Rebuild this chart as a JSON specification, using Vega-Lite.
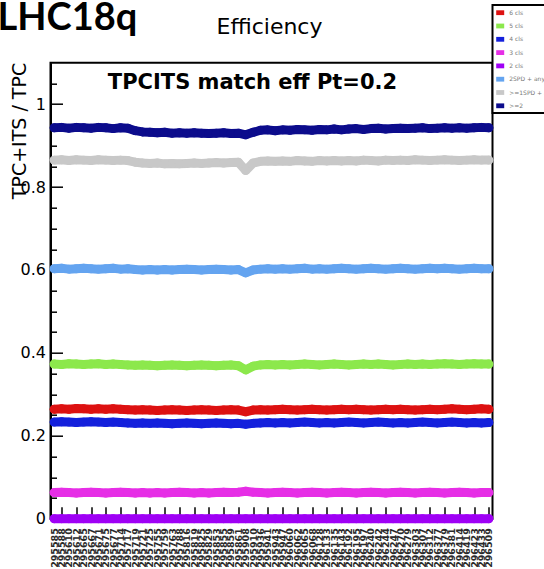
{
  "$schema": "https://vega.github.io/schema/vega-lite/v6.json",
  "width": 442,
  "height": 456,
  "autosize": "none",
  "padding": {"left": 50.5, "top": 62.7, "right": 51.5, "bottom": 50.3},
  "background": "white",
  "data": {"values": [
    {"run":"295585","s":"6 cls","v":0.264},{"run":"295588","s":"6 cls","v":0.265},{"run":"295610","s":"6 cls","v":0.264},{"run":"295612","s":"6 cls","v":0.266},{"run":"295665","s":"6 cls","v":0.265},{"run":"295667","s":"6 cls","v":0.264},{"run":"295671","s":"6 cls","v":0.265},{"run":"295675","s":"6 cls","v":0.264},{"run":"295677","s":"6 cls","v":0.265},{"run":"295714","s":"6 cls","v":0.264},
    {"run":"295717","s":"6 cls","v":0.263},{"run":"295719","s":"6 cls","v":0.262},{"run":"295721","s":"6 cls","v":0.263},{"run":"295725","s":"6 cls","v":0.262},{"run":"295755","s":"6 cls","v":0.261},{"run":"295759","s":"6 cls","v":0.262},{"run":"295763","s":"6 cls","v":0.263},{"run":"295788","s":"6 cls","v":0.262},{"run":"295816","s":"6 cls","v":0.261},{"run":"295819","s":"6 cls","v":0.262},
    {"run":"295825","s":"6 cls","v":0.263},{"run":"295829","s":"6 cls","v":0.262},{"run":"295853","s":"6 cls","v":0.261},{"run":"295855","s":"6 cls","v":0.262},{"run":"295859","s":"6 cls","v":0.263},{"run":"295861","s":"6 cls","v":0.262},{"run":"295908","s":"6 cls","v":0.258},{"run":"295910","s":"6 cls","v":0.262},{"run":"295936","s":"6 cls","v":0.263},{"run":"295941","s":"6 cls","v":0.262},
    {"run":"295943","s":"6 cls","v":0.263},{"run":"295947","s":"6 cls","v":0.264},{"run":"296060","s":"6 cls","v":0.263},{"run":"296062","s":"6 cls","v":0.262},{"run":"296065","s":"6 cls","v":0.263},{"run":"296068","s":"6 cls","v":0.264},{"run":"296128","s":"6 cls","v":0.263},{"run":"296133","s":"6 cls","v":0.262},{"run":"296135","s":"6 cls","v":0.263},{"run":"296143","s":"6 cls","v":0.264},
    {"run":"296192","s":"6 cls","v":0.263},{"run":"296195","s":"6 cls","v":0.264},{"run":"296197","s":"6 cls","v":0.263},{"run":"296240","s":"6 cls","v":0.262},{"run":"296242","s":"6 cls","v":0.263},{"run":"296244","s":"6 cls","v":0.264},{"run":"296247","s":"6 cls","v":0.263},{"run":"296270","s":"6 cls","v":0.264},{"run":"296279","s":"6 cls","v":0.263},{"run":"296303","s":"6 cls","v":0.262},
    {"run":"296307","s":"6 cls","v":0.263},{"run":"296312","s":"6 cls","v":0.264},{"run":"296377","s":"6 cls","v":0.263},{"run":"296379","s":"6 cls","v":0.264},{"run":"296381","s":"6 cls","v":0.265},{"run":"296414","s":"6 cls","v":0.264},{"run":"296419","s":"6 cls","v":0.263},{"run":"296423","s":"6 cls","v":0.264},{"run":"296433","s":"6 cls","v":0.265},{"run":"296509","s":"6 cls","v":0.264},

    {"run":"295585","s":"5 cls","v":0.373},{"run":"295588","s":"5 cls","v":0.372},{"run":"295610","s":"5 cls","v":0.374},{"run":"295612","s":"5 cls","v":0.373},{"run":"295665","s":"5 cls","v":0.372},{"run":"295667","s":"5 cls","v":0.373},{"run":"295671","s":"5 cls","v":0.374},{"run":"295675","s":"5 cls","v":0.372},{"run":"295677","s":"5 cls","v":0.373},{"run":"295714","s":"5 cls","v":0.372},
    {"run":"295717","s":"5 cls","v":0.371},{"run":"295719","s":"5 cls","v":0.370},{"run":"295721","s":"5 cls","v":0.371},{"run":"295725","s":"5 cls","v":0.370},{"run":"295755","s":"5 cls","v":0.369},{"run":"295759","s":"5 cls","v":0.370},{"run":"295763","s":"5 cls","v":0.371},{"run":"295788","s":"5 cls","v":0.370},{"run":"295816","s":"5 cls","v":0.369},{"run":"295819","s":"5 cls","v":0.370},
    {"run":"295825","s":"5 cls","v":0.371},{"run":"295829","s":"5 cls","v":0.370},{"run":"295853","s":"5 cls","v":0.369},{"run":"295855","s":"5 cls","v":0.370},{"run":"295859","s":"5 cls","v":0.371},{"run":"295861","s":"5 cls","v":0.369},{"run":"295908","s":"5 cls","v":0.359},{"run":"295910","s":"5 cls","v":0.368},{"run":"295936","s":"5 cls","v":0.371},{"run":"295941","s":"5 cls","v":0.372},
    {"run":"295943","s":"5 cls","v":0.371},{"run":"295947","s":"5 cls","v":0.372},{"run":"296060","s":"5 cls","v":0.371},{"run":"296062","s":"5 cls","v":0.372},{"run":"296065","s":"5 cls","v":0.373},{"run":"296068","s":"5 cls","v":0.372},{"run":"296128","s":"5 cls","v":0.371},{"run":"296133","s":"5 cls","v":0.372},{"run":"296135","s":"5 cls","v":0.373},{"run":"296143","s":"5 cls","v":0.372},
    {"run":"296192","s":"5 cls","v":0.371},{"run":"296195","s":"5 cls","v":0.372},{"run":"296197","s":"5 cls","v":0.373},{"run":"296240","s":"5 cls","v":0.372},{"run":"296242","s":"5 cls","v":0.373},{"run":"296244","s":"5 cls","v":0.372},{"run":"296247","s":"5 cls","v":0.371},{"run":"296270","s":"5 cls","v":0.372},{"run":"296279","s":"5 cls","v":0.373},{"run":"296303","s":"5 cls","v":0.372},
    {"run":"296307","s":"5 cls","v":0.373},{"run":"296312","s":"5 cls","v":0.372},{"run":"296377","s":"5 cls","v":0.373},{"run":"296379","s":"5 cls","v":0.374},{"run":"296381","s":"5 cls","v":0.373},{"run":"296414","s":"5 cls","v":0.372},{"run":"296419","s":"5 cls","v":0.373},{"run":"296423","s":"5 cls","v":0.374},{"run":"296433","s":"5 cls","v":0.373},{"run":"296509","s":"5 cls","v":0.373},

    {"run":"295585","s":"4 cls","v":0.233},{"run":"295588","s":"4 cls","v":0.234},{"run":"295610","s":"4 cls","v":0.233},{"run":"295612","s":"4 cls","v":0.232},{"run":"295665","s":"4 cls","v":0.233},{"run":"295667","s":"4 cls","v":0.234},{"run":"295671","s":"4 cls","v":0.233},{"run":"295675","s":"4 cls","v":0.232},{"run":"295677","s":"4 cls","v":0.233},{"run":"295714","s":"4 cls","v":0.232},
    {"run":"295717","s":"4 cls","v":0.231},{"run":"295719","s":"4 cls","v":0.230},{"run":"295721","s":"4 cls","v":0.231},{"run":"295725","s":"4 cls","v":0.230},{"run":"295755","s":"4 cls","v":0.231},{"run":"295759","s":"4 cls","v":0.230},{"run":"295763","s":"4 cls","v":0.229},{"run":"295788","s":"4 cls","v":0.230},{"run":"295816","s":"4 cls","v":0.231},{"run":"295819","s":"4 cls","v":0.230},
    {"run":"295825","s":"4 cls","v":0.229},{"run":"295829","s":"4 cls","v":0.230},{"run":"295853","s":"4 cls","v":0.231},{"run":"295855","s":"4 cls","v":0.230},{"run":"295859","s":"4 cls","v":0.229},{"run":"295861","s":"4 cls","v":0.230},{"run":"295908","s":"4 cls","v":0.228},{"run":"295910","s":"4 cls","v":0.230},{"run":"295936","s":"4 cls","v":0.231},{"run":"295941","s":"4 cls","v":0.232},
    {"run":"295943","s":"4 cls","v":0.231},{"run":"295947","s":"4 cls","v":0.232},{"run":"296060","s":"4 cls","v":0.231},{"run":"296062","s":"4 cls","v":0.232},{"run":"296065","s":"4 cls","v":0.233},{"run":"296068","s":"4 cls","v":0.232},{"run":"296128","s":"4 cls","v":0.231},{"run":"296133","s":"4 cls","v":0.232},{"run":"296135","s":"4 cls","v":0.231},{"run":"296143","s":"4 cls","v":0.232},
    {"run":"296192","s":"4 cls","v":0.233},{"run":"296195","s":"4 cls","v":0.232},{"run":"296197","s":"4 cls","v":0.231},{"run":"296240","s":"4 cls","v":0.232},{"run":"296242","s":"4 cls","v":0.233},{"run":"296244","s":"4 cls","v":0.232},{"run":"296247","s":"4 cls","v":0.231},{"run":"296270","s":"4 cls","v":0.232},{"run":"296279","s":"4 cls","v":0.231},{"run":"296303","s":"4 cls","v":0.232},
    {"run":"296307","s":"4 cls","v":0.233},{"run":"296312","s":"4 cls","v":0.232},{"run":"296377","s":"4 cls","v":0.231},{"run":"296379","s":"4 cls","v":0.232},{"run":"296381","s":"4 cls","v":0.233},{"run":"296414","s":"4 cls","v":0.232},{"run":"296419","s":"4 cls","v":0.231},{"run":"296423","s":"4 cls","v":0.232},{"run":"296433","s":"4 cls","v":0.231},{"run":"296509","s":"4 cls","v":0.232},

    {"run":"295585","s":"3 cls","v":0.063},{"run":"295588","s":"3 cls","v":0.064},{"run":"295610","s":"3 cls","v":0.063},{"run":"295612","s":"3 cls","v":0.062},{"run":"295665","s":"3 cls","v":0.063},{"run":"295667","s":"3 cls","v":0.064},{"run":"295671","s":"3 cls","v":0.063},{"run":"295675","s":"3 cls","v":0.062},{"run":"295677","s":"3 cls","v":0.063},{"run":"295714","s":"3 cls","v":0.064},
    {"run":"295717","s":"3 cls","v":0.063},{"run":"295719","s":"3 cls","v":0.062},{"run":"295721","s":"3 cls","v":0.063},{"run":"295725","s":"3 cls","v":0.062},{"run":"295755","s":"3 cls","v":0.063},{"run":"295759","s":"3 cls","v":0.062},{"run":"295763","s":"3 cls","v":0.063},{"run":"295788","s":"3 cls","v":0.064},{"run":"295816","s":"3 cls","v":0.063},{"run":"295819","s":"3 cls","v":0.062},
    {"run":"295825","s":"3 cls","v":0.063},{"run":"295829","s":"3 cls","v":0.062},{"run":"295853","s":"3 cls","v":0.063},{"run":"295855","s":"3 cls","v":0.064},{"run":"295859","s":"3 cls","v":0.063},{"run":"295861","s":"3 cls","v":0.064},{"run":"295908","s":"3 cls","v":0.066},{"run":"295910","s":"3 cls","v":0.064},{"run":"295936","s":"3 cls","v":0.063},{"run":"295941","s":"3 cls","v":0.062},
    {"run":"295943","s":"3 cls","v":0.063},{"run":"295947","s":"3 cls","v":0.064},{"run":"296060","s":"3 cls","v":0.063},{"run":"296062","s":"3 cls","v":0.062},{"run":"296065","s":"3 cls","v":0.063},{"run":"296068","s":"3 cls","v":0.064},{"run":"296128","s":"3 cls","v":0.063},{"run":"296133","s":"3 cls","v":0.062},{"run":"296135","s":"3 cls","v":0.063},{"run":"296143","s":"3 cls","v":0.064},
    {"run":"296192","s":"3 cls","v":0.063},{"run":"296195","s":"3 cls","v":0.062},{"run":"296197","s":"3 cls","v":0.063},{"run":"296240","s":"3 cls","v":0.064},{"run":"296242","s":"3 cls","v":0.063},{"run":"296244","s":"3 cls","v":0.062},{"run":"296247","s":"3 cls","v":0.063},{"run":"296270","s":"3 cls","v":0.064},{"run":"296279","s":"3 cls","v":0.063},{"run":"296303","s":"3 cls","v":0.062},
    {"run":"296307","s":"3 cls","v":0.063},{"run":"296312","s":"3 cls","v":0.064},{"run":"296377","s":"3 cls","v":0.063},{"run":"296379","s":"3 cls","v":0.062},{"run":"296381","s":"3 cls","v":0.063},{"run":"296414","s":"3 cls","v":0.064},{"run":"296419","s":"3 cls","v":0.063},{"run":"296423","s":"3 cls","v":0.062},{"run":"296433","s":"3 cls","v":0.063},{"run":"296509","s":"3 cls","v":0.063},

    {"run":"295585","s":"2 cls","v":0},{"run":"295588","s":"2 cls","v":0},{"run":"295610","s":"2 cls","v":0},{"run":"295612","s":"2 cls","v":0},{"run":"295665","s":"2 cls","v":0},{"run":"295667","s":"2 cls","v":0},{"run":"295671","s":"2 cls","v":0},{"run":"295675","s":"2 cls","v":0},{"run":"295677","s":"2 cls","v":0},{"run":"295714","s":"2 cls","v":0},
    {"run":"295717","s":"2 cls","v":0},{"run":"295719","s":"2 cls","v":0},{"run":"295721","s":"2 cls","v":0},{"run":"295725","s":"2 cls","v":0},{"run":"295755","s":"2 cls","v":0},{"run":"295759","s":"2 cls","v":0},{"run":"295763","s":"2 cls","v":0},{"run":"295788","s":"2 cls","v":0},{"run":"295816","s":"2 cls","v":0},{"run":"295819","s":"2 cls","v":0},
    {"run":"295825","s":"2 cls","v":0},{"run":"295829","s":"2 cls","v":0},{"run":"295853","s":"2 cls","v":0},{"run":"295855","s":"2 cls","v":0},{"run":"295859","s":"2 cls","v":0},{"run":"295861","s":"2 cls","v":0},{"run":"295908","s":"2 cls","v":0},{"run":"295910","s":"2 cls","v":0},{"run":"295936","s":"2 cls","v":0},{"run":"295941","s":"2 cls","v":0},
    {"run":"295943","s":"2 cls","v":0},{"run":"295947","s":"2 cls","v":0},{"run":"296060","s":"2 cls","v":0},{"run":"296062","s":"2 cls","v":0},{"run":"296065","s":"2 cls","v":0},{"run":"296068","s":"2 cls","v":0},{"run":"296128","s":"2 cls","v":0},{"run":"296133","s":"2 cls","v":0},{"run":"296135","s":"2 cls","v":0},{"run":"296143","s":"2 cls","v":0},
    {"run":"296192","s":"2 cls","v":0},{"run":"296195","s":"2 cls","v":0},{"run":"296197","s":"2 cls","v":0},{"run":"296240","s":"2 cls","v":0},{"run":"296242","s":"2 cls","v":0},{"run":"296244","s":"2 cls","v":0},{"run":"296247","s":"2 cls","v":0},{"run":"296270","s":"2 cls","v":0},{"run":"296279","s":"2 cls","v":0},{"run":"296303","s":"2 cls","v":0},
    {"run":"296307","s":"2 cls","v":0},{"run":"296312","s":"2 cls","v":0},{"run":"296377","s":"2 cls","v":0},{"run":"296379","s":"2 cls","v":0},{"run":"296381","s":"2 cls","v":0},{"run":"296414","s":"2 cls","v":0},{"run":"296419","s":"2 cls","v":0},{"run":"296423","s":"2 cls","v":0},{"run":"296433","s":"2 cls","v":0},{"run":"296509","s":"2 cls","v":0},

    {"run":"295585","s":"2SPD + any","v":0.603},{"run":"295588","s":"2SPD + any","v":0.604},{"run":"295610","s":"2SPD + any","v":0.602},{"run":"295612","s":"2SPD + any","v":0.603},{"run":"295665","s":"2SPD + any","v":0.604},{"run":"295667","s":"2SPD + any","v":0.603},{"run":"295671","s":"2SPD + any","v":0.602},{"run":"295675","s":"2SPD + any","v":0.603},{"run":"295677","s":"2SPD + any","v":0.604},{"run":"295714","s":"2SPD + any","v":0.602},
    {"run":"295717","s":"2SPD + any","v":0.603},{"run":"295719","s":"2SPD + any","v":0.601},{"run":"295721","s":"2SPD + any","v":0.600},{"run":"295725","s":"2SPD + any","v":0.601},{"run":"295755","s":"2SPD + any","v":0.600},{"run":"295759","s":"2SPD + any","v":0.601},{"run":"295763","s":"2SPD + any","v":0.600},{"run":"295788","s":"2SPD + any","v":0.601},{"run":"295816","s":"2SPD + any","v":0.602},{"run":"295819","s":"2SPD + any","v":0.601},
    {"run":"295825","s":"2SPD + any","v":0.600},{"run":"295829","s":"2SPD + any","v":0.601},{"run":"295853","s":"2SPD + any","v":0.602},{"run":"295855","s":"2SPD + any","v":0.601},{"run":"295859","s":"2SPD + any","v":0.600},{"run":"295861","s":"2SPD + any","v":0.601},{"run":"295908","s":"2SPD + any","v":0.593},{"run":"295910","s":"2SPD + any","v":0.600},{"run":"295936","s":"2SPD + any","v":0.602},{"run":"295941","s":"2SPD + any","v":0.603},
    {"run":"295943","s":"2SPD + any","v":0.602},{"run":"295947","s":"2SPD + any","v":0.603},{"run":"296060","s":"2SPD + any","v":0.602},{"run":"296062","s":"2SPD + any","v":0.603},{"run":"296065","s":"2SPD + any","v":0.604},{"run":"296068","s":"2SPD + any","v":0.602},{"run":"296128","s":"2SPD + any","v":0.603},{"run":"296133","s":"2SPD + any","v":0.602},{"run":"296135","s":"2SPD + any","v":0.603},{"run":"296143","s":"2SPD + any","v":0.604},
    {"run":"296192","s":"2SPD + any","v":0.603},{"run":"296195","s":"2SPD + any","v":0.602},{"run":"296197","s":"2SPD + any","v":0.603},{"run":"296240","s":"2SPD + any","v":0.604},{"run":"296242","s":"2SPD + any","v":0.603},{"run":"296244","s":"2SPD + any","v":0.602},{"run":"296247","s":"2SPD + any","v":0.603},{"run":"296270","s":"2SPD + any","v":0.604},{"run":"296279","s":"2SPD + any","v":0.603},{"run":"296303","s":"2SPD + any","v":0.602},
    {"run":"296307","s":"2SPD + any","v":0.603},{"run":"296312","s":"2SPD + any","v":0.604},{"run":"296377","s":"2SPD + any","v":0.603},{"run":"296379","s":"2SPD + any","v":0.604},{"run":"296381","s":"2SPD + any","v":0.603},{"run":"296414","s":"2SPD + any","v":0.602},{"run":"296419","s":"2SPD + any","v":0.603},{"run":"296423","s":"2SPD + any","v":0.604},{"run":"296433","s":"2SPD + any","v":0.603},{"run":"296509","s":"2SPD + any","v":0.603},

    {"run":"295585","s":">=1SPD + any","v":0.865},{"run":"295588","s":">=1SPD + any","v":0.866},{"run":"295610","s":">=1SPD + any","v":0.864},{"run":"295612","s":">=1SPD + any","v":0.866},{"run":"295665","s":">=1SPD + any","v":0.865},{"run":"295667","s":">=1SPD + any","v":0.864},{"run":"295671","s":">=1SPD + any","v":0.866},{"run":"295675","s":">=1SPD + any","v":0.865},{"run":"295677","s":">=1SPD + any","v":0.864},{"run":"295714","s":">=1SPD + any","v":0.865},
    {"run":"295717","s":">=1SPD + any","v":0.864},{"run":"295719","s":">=1SPD + any","v":0.860},{"run":"295721","s":">=1SPD + any","v":0.858},{"run":"295725","s":">=1SPD + any","v":0.857},{"run":"295755","s":">=1SPD + any","v":0.858},{"run":"295759","s":">=1SPD + any","v":0.856},{"run":"295763","s":">=1SPD + any","v":0.857},{"run":"295788","s":">=1SPD + any","v":0.856},{"run":"295816","s":">=1SPD + any","v":0.857},{"run":"295819","s":">=1SPD + any","v":0.858},
    {"run":"295825","s":">=1SPD + any","v":0.857},{"run":"295829","s":">=1SPD + any","v":0.858},{"run":"295853","s":">=1SPD + any","v":0.859},{"run":"295855","s":">=1SPD + any","v":0.858},{"run":"295859","s":">=1SPD + any","v":0.859},{"run":"295861","s":">=1SPD + any","v":0.860},{"run":"295908","s":">=1SPD + any","v":0.840},{"run":"295910","s":">=1SPD + any","v":0.858},{"run":"295936","s":">=1SPD + any","v":0.862},{"run":"295941","s":">=1SPD + any","v":0.863},
    {"run":"295943","s":">=1SPD + any","v":0.862},{"run":"295947","s":">=1SPD + any","v":0.863},{"run":"296060","s":">=1SPD + any","v":0.862},{"run":"296062","s":">=1SPD + any","v":0.864},{"run":"296065","s":">=1SPD + any","v":0.863},{"run":"296068","s":">=1SPD + any","v":0.862},{"run":"296128","s":">=1SPD + any","v":0.864},{"run":"296133","s":">=1SPD + any","v":0.863},{"run":"296135","s":">=1SPD + any","v":0.864},{"run":"296143","s":">=1SPD + any","v":0.863},
    {"run":"296192","s":">=1SPD + any","v":0.864},{"run":"296195","s":">=1SPD + any","v":0.863},{"run":"296197","s":">=1SPD + any","v":0.865},{"run":"296240","s":">=1SPD + any","v":0.864},{"run":"296242","s":">=1SPD + any","v":0.863},{"run":"296244","s":">=1SPD + any","v":0.865},{"run":"296247","s":">=1SPD + any","v":0.864},{"run":"296270","s":">=1SPD + any","v":0.865},{"run":"296279","s":">=1SPD + any","v":0.864},{"run":"296303","s":">=1SPD + any","v":0.866},
    {"run":"296307","s":">=1SPD + any","v":0.865},{"run":"296312","s":">=1SPD + any","v":0.864},{"run":"296377","s":">=1SPD + any","v":0.865},{"run":"296379","s":">=1SPD + any","v":0.866},{"run":"296381","s":">=1SPD + any","v":0.865},{"run":"296414","s":">=1SPD + any","v":0.864},{"run":"296419","s":">=1SPD + any","v":0.865},{"run":"296423","s":">=1SPD + any","v":0.866},{"run":"296433","s":">=1SPD + any","v":0.865},{"run":"296509","s":">=1SPD + any","v":0.865},

    {"run":"295585","s":">=2","v":0.943},{"run":"295588","s":">=2","v":0.944},{"run":"295610","s":">=2","v":0.942},{"run":"295612","s":">=2","v":0.944},{"run":"295665","s":">=2","v":0.943},{"run":"295667","s":">=2","v":0.942},{"run":"295671","s":">=2","v":0.944},{"run":"295675","s":">=2","v":0.943},{"run":"295677","s":">=2","v":0.941},{"run":"295714","s":">=2","v":0.943},
    {"run":"295717","s":">=2","v":0.942},{"run":"295719","s":">=2","v":0.936},{"run":"295721","s":">=2","v":0.933},{"run":"295725","s":">=2","v":0.932},{"run":"295755","s":">=2","v":0.931},{"run":"295759","s":">=2","v":0.932},{"run":"295763","s":">=2","v":0.930},{"run":"295788","s":">=2","v":0.931},{"run":"295816","s":">=2","v":0.930},{"run":"295819","s":">=2","v":0.931},
    {"run":"295825","s":">=2","v":0.930},{"run":"295829","s":">=2","v":0.929},{"run":"295853","s":">=2","v":0.930},{"run":"295855","s":">=2","v":0.931},{"run":"295859","s":">=2","v":0.929},{"run":"295861","s":">=2","v":0.930},{"run":"295908","s":">=2","v":0.926},{"run":"295910","s":">=2","v":0.932},{"run":"295936","s":">=2","v":0.937},{"run":"295941","s":">=2","v":0.938},
    {"run":"295943","s":">=2","v":0.936},{"run":"295947","s":">=2","v":0.938},{"run":"296060","s":">=2","v":0.937},{"run":"296062","s":">=2","v":0.939},{"run":"296065","s":">=2","v":0.938},{"run":"296068","s":">=2","v":0.937},{"run":"296128","s":">=2","v":0.939},{"run":"296133","s":">=2","v":0.938},{"run":"296135","s":">=2","v":0.940},{"run":"296143","s":">=2","v":0.938},
    {"run":"296192","s":">=2","v":0.940},{"run":"296195","s":">=2","v":0.941},{"run":"296197","s":">=2","v":0.939},{"run":"296240","s":">=2","v":0.941},{"run":"296242","s":">=2","v":0.942},{"run":"296244","s":">=2","v":0.940},{"run":"296247","s":">=2","v":0.941},{"run":"296270","s":">=2","v":0.942},{"run":"296279","s":">=2","v":0.941},{"run":"296303","s":">=2","v":0.942},
    {"run":"296307","s":">=2","v":0.943},{"run":"296312","s":">=2","v":0.941},{"run":"296377","s":">=2","v":0.942},{"run":"296379","s":">=2","v":0.943},{"run":"296381","s":">=2","v":0.942},{"run":"296414","s":">=2","v":0.943},{"run":"296419","s":">=2","v":0.942},{"run":"296423","s":">=2","v":0.943},{"run":"296433","s":">=2","v":0.944},{"run":"296509","s":">=2","v":0.943}
  ]},
  "layer": [
    {
      "mark": {"type": "line", "strokeWidth": 9, "strokeCap": "round", "strokeJoin": "round", "clip": false},
      "encoding": {
        "x": {
          "field": "run", "type": "ordinal", "sort": null,
          "scale": {"type": "point", "padding": 0.5},
          "axis": {
            "orient": "bottom",
            "values": ["295588","295612","295667","295675","295714","295719","295725","295759","295788","295819","295829","295855","295861","295910","295941","295947","296062","296068","296133","296143","296195","296240","296244","296270","296303","296312","296379","296414","296423","296509"],
            "labels": false, "tickSize": -12, "tickWidth": 1.5, "domain": true,
            "title": "TPCITS match eff Pt=0.2",
            "titleFont": "DejaVu Sans", "titleFontSize": 21, "titleFontWeight": "bold",
            "titleX": 201.5, "titleY": -430.6, "titleAlign": "center", "titleBaseline": "alphabetic", "titleAngle": 0
          }
        },
        "y": {
          "field": "v", "type": "quantitative",
          "scale": {"domain": [0, 1.1], "nice": false, "zero": false},
          "axis": {
            "orient": "left",
            "values": [0, 0.2, 0.4, 0.6, 0.8, 1],
            "format": "~g",
            "tickSize": -12, "tickWidth": 1.5,
            "labelFont": "DejaVu Sans", "labelFontSize": 16, "labelPadding": 17,
            "title": "TPC+ITS / TPC",
            "titleFont": "DejaVu Sans", "titleFontSize": 19, "titleFontWeight": "normal",
            "titleAngle": -90, "titleX": -25.5, "titleY": 67.8, "titleAlign": "center", "titleBaseline": "alphabetic"
          }
        },
        "color": {
          "field": "s", "type": "nominal",
          "scale": {
            "domain": ["6 cls", "5 cls", "4 cls", "3 cls", "2 cls", "2SPD + any", ">=1SPD + any", ">=2"],
            "range": ["#dd1111", "#8ce84c", "#1420dc", "#e62ee6", "#9f00f5", "#64a4f0", "#c8c8c8", "#0c0c8c"]
          },
          "legend": {
            "orient": "none", "legendX": 442, "legendY": -57.7, "title": null,
            "fillColor": "white", "strokeColor": "black",
            "padding": 3.7, "rowPadding": 6.3,
            "symbolType": "M-1,-0.6H1V0.6H-1Z", "symbolSize": 64, "symbolStrokeWidth": 0,
            "labelFont": "DejaVu Sans", "labelFontSize": 6, "labelColor": "#777", "labelOffset": 5,
            "encode": {
              "legend": {"update": {"strokeWidth": {"value": 2}}},
              "symbols": {"update": {"fill": {"scale": "color", "field": "value"}, "strokeWidth": {"value": 0}, "opacity": {"value": 1}}}
            }
          }
        }
      }
    },
    {
      "mark": {"type": "circle", "size": 80, "opacity": 1, "clip": false},
      "encoding": {
        "x": {
          "field": "run", "type": "ordinal", "sort": null,
          "scale": {"type": "point", "padding": 0.5},
          "axis": {
            "orient": "bottom", "ticks": false, "tickSize": 0, "domain": false,
            "labelAngle": -90, "labelFont": "DejaVu Sans", "labelFontSize": 9.5, "labelFontWeight": "bold", "labelColor": "#2a2a2a",
            "labelPadding": 9, "labelOverlap": false, "labelBound": false, "labelFlush": false,
            "title": "Efficiency",
            "titleFont": "DejaVu Sans", "titleFontSize": 22, "titleFontWeight": "normal",
            "titleX": 218.5, "titleY": -485.6, "titleAlign": "center", "titleBaseline": "alphabetic", "titleAngle": 0
          }
        },
        "y": {
          "field": "v", "type": "quantitative",
          "scale": {"domain": [0, 1.1], "nice": false, "zero": false},
          "axis": {
            "orient": "left",
            "values": [0.05, 0.1, 0.15, 0.25, 0.3, 0.35, 0.45, 0.5, 0.55, 0.65, 0.7, 0.75, 0.85, 0.9, 0.95, 1.05],
            "labels": false, "tickSize": -6, "tickWidth": 1.5, "domain": false,
            "title": "LHC18q",
            "titleFont": "Lato", "titleFontSize": 38, "titleFontWeight": "bold",
            "titleAngle": 0, "titleX": -53.5, "titleY": -33.4, "titleAlign": "left", "titleBaseline": "alphabetic"
          }
        },
        "color": {"field": "s", "type": "nominal"}
      }
    }
  ],
  "resolve": {"axis": {"x": "independent", "y": "independent"}},
  "config": {
    "font": "DejaVu Sans",
    "view": {"stroke": "black", "strokeWidth": 2},
    "axis": {"domainColor": "black", "domainWidth": 2, "tickColor": "black", "labelColor": "black", "titleColor": "black", "grid": false}
  }
}
